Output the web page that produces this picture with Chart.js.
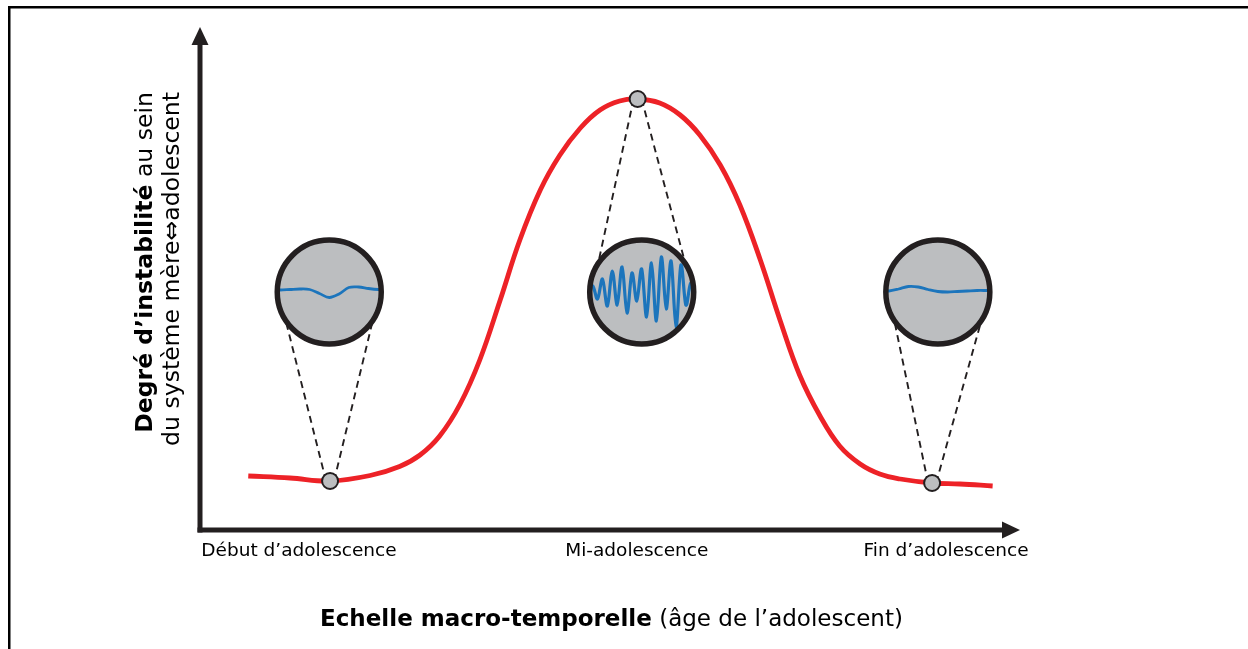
<!DOCTYPE html>
<html>
<head>
<meta charset="utf-8">
<script src="https://cdn.jsdelivr.net/npm/chart.js@4/dist/chart.umd.min.js"></script>
<style>
  html, body { margin: 0; padding: 0; background: #ffffff; }
  #wrap { width: 1248px; height: 649px; position: relative; }
</style>
</head>
<body>
<div id="wrap"><canvas id="chart" width="1248" height="649"></canvas></div>
<script>
// Instability curve across adolescence (abstract 0-100 units on both axes)
const curveX = [5.9, 11.0, 15.9, 20.8, 24.4, 26.9, 29.3, 31.8, 34.2, 36.7, 39.1, 41.6, 44.0, 46.5, 48.9, 51.3, 53.5,
                56.2, 58.7, 61.1, 63.6, 66.0, 68.5, 70.9, 73.3, 75.8, 78.2, 80.7, 83.1, 85.6, 89.5, 92.9, 96.9];
const curveY = [10.8, 10.4, 9.8, 10.9, 12.7, 15.0, 18.8, 25.2, 34.0, 46.0, 58.0, 68.0, 75.0, 80.4, 84.0, 85.8, 86.2,
                85.4, 83.0, 79.0, 73.0, 65.0, 54.0, 42.0, 31.0, 22.8, 16.8, 13.2, 11.2, 10.2, 9.4, 9.2, 8.8];

// Sampled moments (early, mid, late adolescence)
const markerX = [15.9, 53.5, 89.5];
const markerY = [9.8, 86.2, 9.4];

// Where each magnified view sits
const insetX = [15.8, 54.0, 90.2];
const insetY = [47.6, 47.6, 47.6];

// Micro-level signals shown inside each magnified view
const waveEarly = [1, 1.5, 2, 1.5, -2.5, -6.5, -3, 3.5, 4, 2.5, 1.5];
const waveMid   = [5, -8, 12, -15, 20, -14, 24, -22, 18, -10, 22, -26, 28, -30, 34, -18, 30, -36, 26, -14, 8];
const waveLate  = [0, 2, 4.5, 4, 1.5, -0.5, -1, -0.5, 0, 0.5, 0.5];
const waves = [waveEarly, waveMid, waveLate];

// Axis tick labels
const tickValues = [12.1, 53.4, 91.2];
const tickLabels = ['Début d’adolescence', 'Mi-adolescence', 'Fin d’adolescence'];

const FONT = '"DejaVu Sans", "Noto Sans", sans-serif';
const INK = '#231f20';
const GREY = '#bcbec0';
const RED = '#ed2227';
const BLUE = '#1c75bc';

// Pick a font size so that a run of mixed-weight text spans a given width
function fitSize(parts, target) {
  const c = document.createElement('canvas').getContext('2d');
  let w = 0;
  parts.forEach(p => { c.font = `${p.weight} 100px ${FONT}`; w += c.measureText(p.text).width; });
  return 100 * target / w;
}

function drawRun(ctx, parts, size, x, y, align) {
  let total = 0;
  const widths = parts.map(p => { ctx.font = `${p.weight} ${size}px ${FONT}`; const w = ctx.measureText(p.text).width; total += w; return w; });
  let cx = align === 'right' ? x - total : align === 'center' ? x - total / 2 : x;
  ctx.textAlign = 'left';
  parts.forEach((p, i) => { ctx.font = `${p.weight} ${size}px ${FONT}`; ctx.fillText(p.text, cx, y); cx += widths[i]; });
}

// Smooth path through every sample (Catmull-Rom)
function splineThrough(ctx, pts) {
  ctx.moveTo(pts[0][0], pts[0][1]);
  for (let i = 0; i < pts.length - 1; i++) {
    const p0 = pts[Math.max(0, i - 1)], p1 = pts[i], p2 = pts[i + 1], p3 = pts[Math.min(pts.length - 1, i + 2)];
    ctx.bezierCurveTo(p1[0] + (p2[0] - p0[0]) / 6, p1[1] + (p2[1] - p0[1]) / 6,
                      p2[0] - (p3[0] - p1[0]) / 6, p2[1] - (p3[1] - p1[1]) / 6,
                      p2[0], p2[1]);
  }
}

const xTitle = [{ text: 'Echelle macro-temporelle', weight: 'bold' }, { text: ' (âge de l’adolescent)', weight: 'normal' }];
const yTitle1 = [{ text: 'Degré d’instabilité', weight: 'bold' }, { text: ' au sein', weight: 'normal' }];
const yTitle2 = [{ text: 'du système mère⇔adolescent', weight: 'normal' }];

const decor = {
  id: 'decor',
  beforeDraw(chart) {
    const ctx = chart.ctx;
    ctx.save();
    ctx.fillStyle = '#000';
    ctx.fillRect(8, 6, 1240, 2.5);
    ctx.fillRect(8, 6, 2.5, 643);
    ctx.restore();
  },
  beforeDatasetsDraw(chart) {
    const ctx = chart.ctx;
    const xs = chart.scales.x, ys = chart.scales.y;
    const R = 52, ang = 57 * Math.PI / 180;
    ctx.save();
    insetX.forEach((ix, i) => {
      const cx = xs.getPixelForValue(ix), cy = ys.getPixelForValue(insetY[i]);
      const mx = xs.getPixelForValue(markerX[i]), my = ys.getPixelForValue(markerY[i]);
      const dir = my > cy ? 1 : -1;
      // dashed guide lines from the sampled point to the magnified view
      ctx.setLineDash([7, 5]);
      ctx.lineWidth = 1.9;
      ctx.strokeStyle = INK;
      [-1, 1].forEach(s => {
        ctx.beginPath();
        ctx.moveTo(mx + s * 4, my);
        ctx.lineTo(cx + s * R * Math.sin(ang), cy + dir * R * Math.cos(ang));
        ctx.stroke();
      });
      ctx.setLineDash([]);
      // disc
      ctx.beginPath();
      ctx.arc(cx, cy, R, 0, Math.PI * 2);
      ctx.fillStyle = GREY;
      ctx.fill();
      // signal clipped to the disc
      ctx.save();
      ctx.beginPath();
      ctx.arc(cx, cy, R - 1, 0, Math.PI * 2);
      ctx.clip();
      const w = waves[i];
      const half = 49;
      const pts = w.map((v, k) => [cx - half + (2 * half) * k / (w.length - 1), cy - 1 - v]);
      pts.unshift([pts[0][0] - 8, pts[0][1]]);
      pts.push([pts[pts.length - 1][0] + 8, pts[pts.length - 1][1]]);
      ctx.beginPath();
      splineThrough(ctx, pts);
      ctx.strokeStyle = BLUE;
      ctx.lineWidth = i === 1 ? 3.2 : 2.8;
      ctx.lineJoin = 'round';
      ctx.stroke();
      ctx.restore();
      // rim
      ctx.beginPath();
      ctx.arc(cx, cy, R, 0, Math.PI * 2);
      ctx.lineWidth = 5.5;
      ctx.strokeStyle = INK;
      ctx.stroke();
    });
    ctx.restore();
  },
  afterDraw(chart) {
    const ctx = chart.ctx;
    const a = chart.chartArea;
    ctx.save();
    ctx.fillStyle = INK;
    ctx.strokeStyle = INK;
    // vertical axis with arrow head
    ctx.lineWidth = 5;
    ctx.beginPath();
    ctx.moveTo(a.left, a.bottom + 2.5);
    ctx.lineTo(a.left, a.top + 14);
    ctx.stroke();
    ctx.beginPath();
    ctx.moveTo(a.left, a.top - 3);
    ctx.lineTo(a.left - 8.5, a.top + 15);
    ctx.lineTo(a.left + 8.5, a.top + 15);
    ctx.closePath();
    ctx.fill();
    // horizontal axis with arrow head
    ctx.beginPath();
    ctx.moveTo(a.left - 2.5, a.bottom);
    ctx.lineTo(a.right - 14, a.bottom);
    ctx.stroke();
    ctx.beginPath();
    ctx.moveTo(a.right + 2, a.bottom);
    ctx.lineTo(a.right - 16, a.bottom - 8.5);
    ctx.lineTo(a.right - 16, a.bottom + 8.5);
    ctx.closePath();
    ctx.fill();

    // axis titles
    ctx.fillStyle = '#000';
    ctx.textBaseline = 'alphabetic';
    const xs = fitSize(xTitle, 583);
    drawRun(ctx, xTitle, xs, 320, 626, 'left');

    const ys1 = fitSize(yTitle1, 341);
    ctx.save();
    ctx.translate(152, 92);
    ctx.rotate(-Math.PI / 2);
    drawRun(ctx, yTitle1, ys1, 0, 0, 'right');
    ctx.restore();
    ctx.save();
    ctx.translate(179, 92);
    ctx.rotate(-Math.PI / 2);
    drawRun(ctx, yTitle2, ys1, 0, 0, 'right');
    ctx.restore();
    ctx.restore();
  }
};

new Chart(document.getElementById('chart'), {
  type: 'line',
  data: {
    datasets: [
      {
        label: 'Moments',
        data: markerX.map((x, i) => ({ x, y: markerY[i] })),
        showLine: false,
        pointRadius: 8,
        pointBackgroundColor: GREY,
        pointBorderColor: INK,
        pointBorderWidth: 2,
        order: 0
      },
      {
        label: 'Instabilité',
        data: curveX.map((x, i) => ({ x, y: curveY[i] })),
        borderColor: RED,
        borderWidth: 4.8,
        pointRadius: 0,
        fill: false,
        tension: 0.4,
        order: 1
      }
    ]
  },
  options: {
    responsive: false,
    animation: false,
    layout: { padding: { left: 200, right: 230, top: 30, bottom: 76.8 } },
    plugins: { legend: { display: false }, tooltip: { enabled: false } },
    scales: {
      x: {
        type: 'linear', min: 0, max: 100,
        grid: { display: false, drawTicks: false },
        border: { display: false },
        afterBuildTicks: s => { s.ticks = tickValues.map(v => ({ value: v })); },
        ticks: {
          autoSkip: false, maxRotation: 0, padding: 10,
          color: '#000',
          font: { family: FONT, size: 18.5 },
          callback: (v, i) => tickLabels[i]
        }
      },
      y: { display: false, min: 0, max: 100 }
    }
  },
  plugins: [decor]
});
</script>
</body>
</html>
